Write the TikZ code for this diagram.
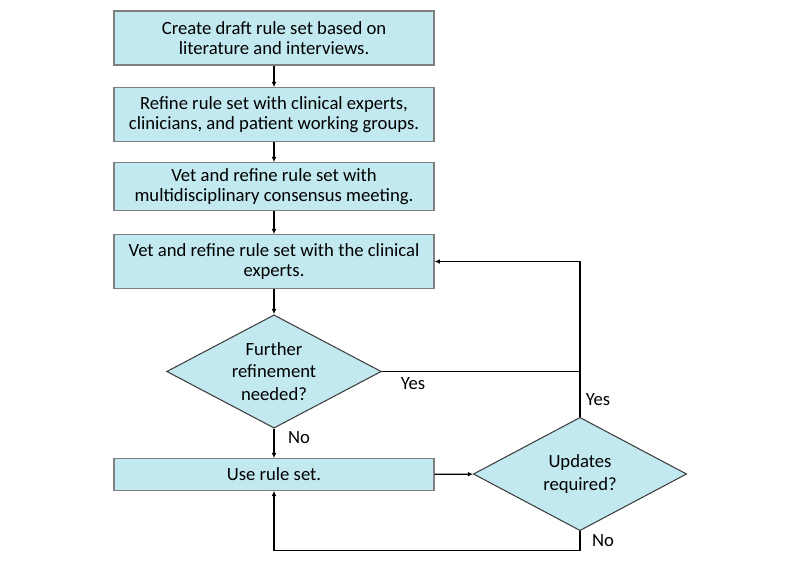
\documentclass[tikz,border=0pt]{standalone}
\usepackage{fontspec}
\setmainfont{Carlito}
\usetikzlibrary{shapes.geometric,arrows.meta}
\definecolor{boxfill}{HTML}{C1E9EF}
\definecolor{boxline}{HTML}{808080}
\begin{document}
\begin{tikzpicture}[x=0.75pt,y=-0.75pt,
    stepbox/.style={draw=boxline,line width=0.8pt,fill=boxfill,minimum width=240pt,inner sep=0pt,align=center,font=\fontsize{14}{15}\selectfont},
    decision/.style={diamond,shape aspect=1.9,draw=black!75,line width=0.8pt,fill=boxfill,minimum width=161pt,minimum height=85pt,inner sep=0pt,align=center,font=\fontsize{14}{17}\selectfont},
    flow/.style={line width=0.9pt,-{Latex[length=4pt,width=3.5pt]}},
    lbl/.style={font=\fontsize{14}{16}\selectfont}]
  \useasboundingbox (0,0) rectangle (800,563);
  % steps
  \node[stepbox,minimum height=40.5pt] (draft) at (274,38) {Create draft rule set based on\\literature and interviews.};
  \node[stepbox,minimum height=40pt] (refine) at (274,114.5) {Refine rule set with clinical experts,\\clinicians, and patient working groups.};
  \node[stepbox,minimum height=35.5pt] (consensus) at (274,186.5) {Vet and refine rule set with\\multidisciplinary consensus meeting.};
  \node[stepbox,minimum height=40pt] (experts) at (274,261.5) {Vet and refine rule set with the clinical\\experts.};
  \node[decision] (further) at (274,371.5) {Further\\refinement\\needed?};
  \node[stepbox,minimum height=23.5pt] (use) at (274,474.5) {Use rule set.};
  \node[decision,minimum width=160pt] (updates) at (580,474) {Updates\\required?};
  % labels
  \node[lbl] (yesfurther) at (413,384) {Yes};
  \node[lbl] (yesupdates) at (598,400) {Yes};
  \node[lbl] (nofurther) at (299,438) {No};
  \node[lbl] (noupdates) at (603,541) {No};
  % connectors
  \draw[flow] (draft) -- (refine);
  \draw[flow] (refine) -- (consensus);
  \draw[flow] (consensus) -- (experts);
  \draw[flow] (experts) -- (further);
  \draw[flow] (further) -- (use);
  \draw[flow] (use) -- (updates);
  \draw[flow] (updates.north) |- (experts.east);
  \draw[line width=0.9pt] (further.east) -- (further.east -| updates.north);
  \draw[flow] (updates.south) -- ++(0,19) -| (use.south);
\end{tikzpicture}
\end{document}
